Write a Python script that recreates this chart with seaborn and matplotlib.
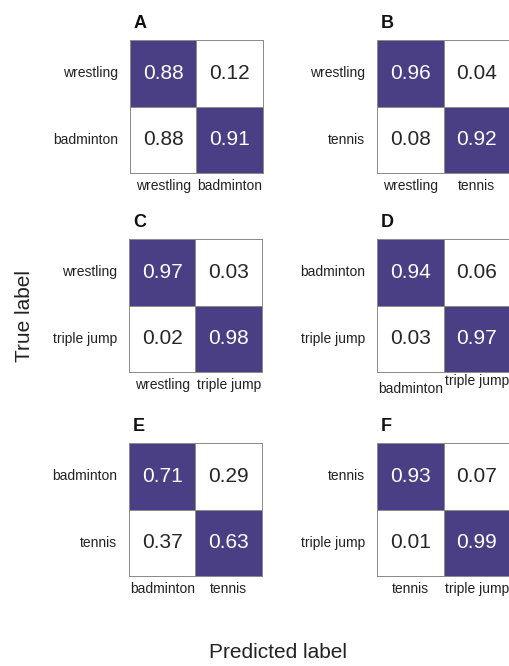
import numpy as np
import matplotlib
matplotlib.use("Agg")
import matplotlib.pyplot as plt
from matplotlib.colors import ListedColormap
from matplotlib.transforms import ScaledTranslation
import seaborn as sns

sns.set_theme(style="white")
plt.rcParams["font.family"] = ["Liberation Sans", "DejaVu Sans"]

# Confusion matrices (rows: true label, columns: predicted label)
panel_names = ["A", "B", "C", "D", "E", "F"]
labels_A = ["wrestling", "badminton"]
labels_B = ["wrestling", "tennis"]
labels_C = ["wrestling", "triple jump"]
labels_D = ["badminton", "triple jump"]
labels_E = ["badminton", "tennis"]
labels_F = ["tennis", "triple jump"]
values_A = [[0.88, 0.12], [0.88, 0.91]]
values_B = [[0.96, 0.04], [0.08, 0.92]]
values_C = [[0.97, 0.03], [0.02, 0.98]]
values_D = [[0.94, 0.06], [0.03, 0.97]]
values_E = [[0.71, 0.29], [0.37, 0.63]]
values_F = [[0.93, 0.07], [0.01, 0.99]]

panels = [
    (labels_A, values_A), (labels_B, values_B),
    (labels_C, values_C), (labels_D, values_D),
    (labels_E, values_E), (labels_F, values_F),
]

W, H = 509, 666
fig = plt.figure(figsize=(W / 100, H / 100), dpi=100)

# axes placement in pixels: (left, top)
origins = [(130, 40), (377, 40), (129, 239), (377, 239), (129, 443), (377, 443)]
size = 133

purple = "#4a3e84"
cmap = ListedColormap(["white", purple])

for name, (labels, vals), (x0, y0) in zip(panel_names, panels, origins):
    ax = fig.add_axes([x0 / W, 1 - (y0 + size) / H, size / W, size / H])
    vals = np.array(vals)
    diag = np.eye(len(labels))
    sns.heatmap(diag, ax=ax, cmap=cmap, vmin=0, vmax=1, cbar=False,
                annot=vals, fmt=".2f", annot_kws={"fontsize": 15},
                linewidths=0.5, linecolor="#8c8c8c",
                xticklabels=labels, yticklabels=labels, square=False)
    ax.collections[0].set_clip_on(False)
    ax.tick_params(axis="both", length=0, labelsize=10)
    ax.tick_params(axis="y", pad=8.5)
    ax.tick_params(axis="x", pad=4.5)
    plt.setp(ax.get_yticklabels(), rotation=0, color="#222222")
    plt.setp(ax.get_xticklabels(), rotation=0, color="#222222")
    ax.text(0.03, 1.09, name, transform=ax.transAxes, fontsize=13,
            fontweight="bold", ha="left", va="baseline", color="#111111")
    if name == "D":
        # stagger the two predicted-class labels
        xt = ax.get_xticklabels()
        xt[0].set_transform(xt[0].get_transform() +
                            ScaledTranslation(0, -4 / 100, fig.dpi_scale_trans))
        xt[1].set_transform(xt[1].get_transform() +
                            ScaledTranslation(0, 4 / 100, fig.dpi_scale_trans))

fig.text(25 / W, 1 - 316 / H, "True label", rotation=90, fontsize=15,
         ha="center", va="center", color="#222222")
fig.text(278 / W, 1 - 652 / H, "Predicted label", fontsize=15,
         ha="center", va="center", color="#222222")

fig.savefig("out.png", dpi=100)
